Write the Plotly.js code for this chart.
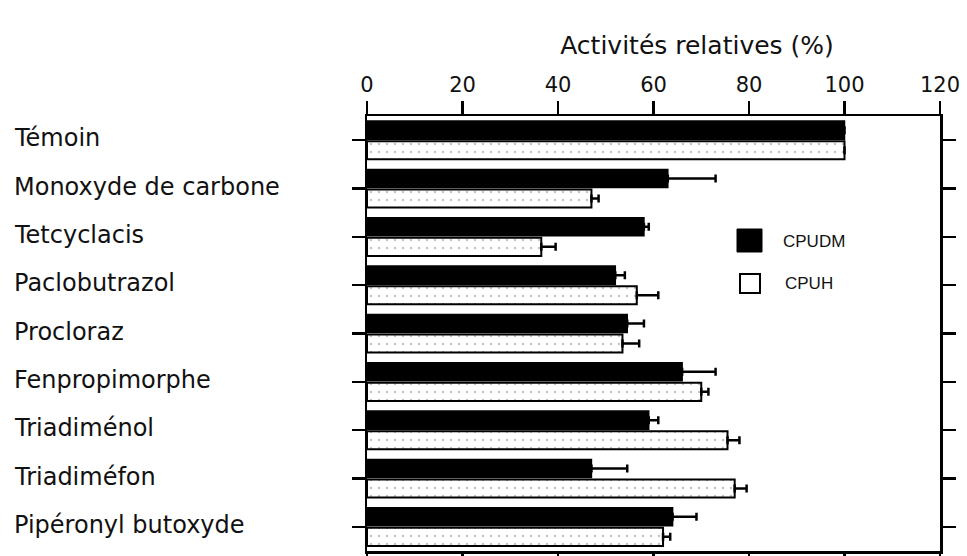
<!DOCTYPE html>
<html>
<head>
<meta charset="utf-8">
<script src="https://cdn.plot.ly/plotly-3.0.1.min.js"></script>
<style>
html,body{margin:0;padding:0;background:#fff;}
#chart{width:967px;height:556px;}
</style>
</head>
<body>
<div id="chart"></div>
<script>
// ---- data ----
var categories = ["Témoin", "Monoxyde de carbone", "Tetcyclacis", "Paclobutrazol", "Procloraz",
                  "Fenpropimorphe", "Triadiménol", "Triadiméfon", "Pipéronyl butoxyde"];
var seriesNames = ["CPUDM", "CPUH"];
var cpudmValues = [100, 63, 58, 52, 54.5, 66, 59, 47, 64];
var cpudmErrors = [0, 10, 1, 2, 3.5, 7, 2, 7.5, 5];
var cpuhValues  = [100, 47, 36.5, 56.5, 53.5, 70, 75.5, 77, 62];
var cpuhErrors  = [0, 1.5, 3, 4.5, 3.5, 1.5, 2.5, 2.5, 1.5];
var xTickValues = [0, 20, 40, 60, 80, 100, 120];
var axisTitle = "Activités relatives (%)";

var FONT = "DejaVu Sans, Liberation Sans, Arial, sans-serif";

var traces = [
  {
    type: "bar", orientation: "h", name: seriesNames[0],
    y: categories, x: cpudmValues,
    marker: {color: "#000", line: {color: "#000", width: 1.5}},
    error_x: {type: "data", array: cpudmErrors, arrayminus: cpudmErrors.map(function(){return 0;}),
              symmetric: false, color: "#000", thickness: 2.5, width: 4},
    showlegend: false
  },
  {
    type: "bar", orientation: "h", name: seriesNames[1],
    y: categories, x: cpuhValues,
    marker: {color: "#fff", line: {color: "#000", width: 2},
             pattern: {shape: ".", fgcolor: "#c4c4c4", bgcolor: "#fff", size: 8, solidity: 0.08}},
    error_x: {type: "data", array: cpuhErrors, arrayminus: cpuhErrors.map(function(){return 0;}),
              symmetric: false, color: "#000", thickness: 2.5, width: 4},
    showlegend: false
  }
];

var plotLeft = 367, plotRight = 940, plotTop = 116, plotBottom = 551;
var pw = plotRight - plotLeft, ph = plotBottom - plotTop;
function px(x){ return (x - plotLeft) / pw; }
function py(y){ return 1 - (y - plotTop) / ph; }

var annotations = categories.map(function(c){
  return {text: c, xref: "paper", yref: "y", x: px(12), y: c, xanchor: "left", yanchor: "middle",
          yshift: 2, showarrow: false, font: {family: FONT, size: 24, color: "#111"}};
});
annotations.push({text: seriesNames[0], xref: "paper", yref: "paper", x: px(781), y: py(241),
                  xanchor: "left", yanchor: "middle", showarrow: false,
                  font: {family: "Liberation Sans, Arial, sans-serif", size: 17, color: "#111"}});
annotations.push({text: seriesNames[1], xref: "paper", yref: "paper", x: px(783), y: py(283),
                  xanchor: "left", yanchor: "middle", showarrow: false,
                  font: {family: "Liberation Sans, Arial, sans-serif", size: 17, color: "#111"}});

var shapes = [
  {type: "rect", xref: "paper", yref: "paper", x0: px(737), x1: px(762), y0: py(252), y1: py(229),
   fillcolor: "#000", line: {color: "#000", width: 1}},
  {type: "rect", xref: "paper", yref: "paper", x0: px(740), x1: px(760), y0: py(293), y1: py(274),
   fillcolor: "#fff", line: {color: "#000", width: 2}}
];

var layout = {
  width: 967, height: 556,
  margin: {l: plotLeft, r: 967 - plotRight, t: plotTop, b: 556 - plotBottom, pad: 0},
  paper_bgcolor: "#fff", plot_bgcolor: "#fff",
  barmode: "group", bargap: 0.17, bargroupgap: 0.1,
  title: {text: axisTitle, xref: "container", yref: "container", x: 697/967, y: 1 - 45/556,
          xanchor: "center", yanchor: "middle",
          font: {family: FONT, size: 25, color: "#111"}},
  xaxis: {
    side: "top", range: [0, 120], tickvals: xTickValues, ticktext: xTickValues.map(String),
    ticks: "outside", ticklen: 13, tickwidth: 2.5, tickcolor: "#000",
    showline: true, linewidth: 2.5, linecolor: "#000", mirror: "ticks",
    showgrid: false, zeroline: false,
    tickfont: {family: FONT, size: 21, color: "#111"}
  },
  yaxis: {
    type: "category", autorange: "reversed",
    ticks: "outside", ticklen: 13, tickwidth: 2.5, tickcolor: "#000",
    showline: true, linewidth: 2.5, linecolor: "#000", mirror: "ticks",
    showgrid: false, zeroline: false, showticklabels: false
  },
  annotations: annotations,
  shapes: shapes,
  showlegend: false
};

Plotly.newPlot("chart", traces, layout, {displayModeBar: false, staticPlot: true});
</script>
</body>
</html>
